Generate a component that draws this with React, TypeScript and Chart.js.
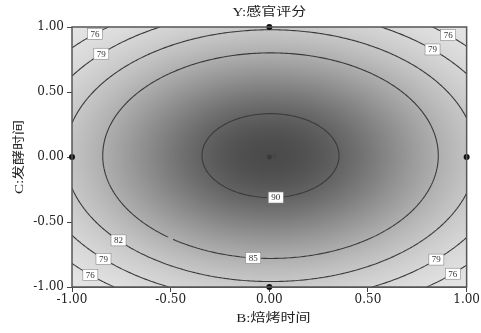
import { useEffect, useRef } from "react";
import { Chart, registerables } from "chart.js";

Chart.register(...registerables);

// Titles
const TITLE = "Y:感官评分";
const X_TITLE = "B:焙烤时间";
const Y_TITLE = "C:发酵时间";

// Coded factor ticks
const TICKS = [-1, -0.5, 0, 0.5, 1];

// Fitted quadratic response model: terms and coefficients (coded units)
const COEF_TERMS = ["1", "B", "C", "BC", "B2", "C2"];
const COEF_VALUES = [91, 0.1, 0.2, 0, -8.3, -9.6];

// Contour levels
const LEVELS = [76, 79, 82, 85, 90];

// Contour labels: which level, and the direction (deg) from the centre where it sits
const LABEL_LEVELS = [90, 85, 82, 79, 79, 79, 79, 76, 76, 76, 76];
const LABEL_ANGLES = [-84, -96, -140, -137, 137, 45, -43, -135, 133, 46, -44];

// Design points (coded) and replicate counts
const DESIGN_B = [0, 0, -1, 1, 0];
const DESIGN_C = [1, -1, 0, 0, 0];
const DESIGN_RUNS = [1, 1, 1, 1, 5];

const SERIF = "'DejaVu Serif', 'Liberation Serif', serif";
const CJK = "'Liberation Serif', 'Noto Sans CJK SC', serif";

function model(b: number, c: number): number {
  const k = COEF_VALUES;
  return k[0] + k[1] * b + k[2] * c + k[3] * b * c + k[4] * b * b + k[5] * c * c;
}

const V_MAX = model(0, 0);

function grayFor(v: number): number {
  const d = Math.max(0, V_MAX - v);
  return 240 - 165 * Math.exp(-d / 6.5);
}

type Seg = [number, number, number, number];

function contourSegments(level: number, n: number): Seg[] {
  const at = (i: number) => -1 + (2 * i) / n;
  const g: number[][] = [];
  for (let j = 0; j <= n; j++) {
    const row: number[] = [];
    for (let i = 0; i <= n; i++) row.push(model(at(i), at(j)));
    g.push(row);
  }
  const segs: Seg[] = [];
  const lerp = (a: number, b: number) => (level - a) / (b - a);
  for (let j = 0; j < n; j++) {
    for (let i = 0; i < n; i++) {
      const v00 = g[j][i], v10 = g[j][i + 1], v11 = g[j + 1][i + 1], v01 = g[j + 1][i];
      const x0 = at(i), x1 = at(i + 1), y0 = at(j), y1 = at(j + 1);
      const pts: number[][] = [];
      if ((v00 - level) * (v10 - level) < 0) pts.push([x0 + (x1 - x0) * lerp(v00, v10), y0]);
      if ((v10 - level) * (v11 - level) < 0) pts.push([x1, y0 + (y1 - y0) * lerp(v10, v11)]);
      if ((v01 - level) * (v11 - level) < 0) pts.push([x0 + (x1 - x0) * lerp(v01, v11), y1]);
      if ((v00 - level) * (v01 - level) < 0) pts.push([x0, y0 + (y1 - y0) * lerp(v00, v01)]);
      if (pts.length >= 2) segs.push([pts[0][0], pts[0][1], pts[1][0], pts[1][1]]);
      if (pts.length === 4) segs.push([pts[2][0], pts[2][1], pts[3][0], pts[3][1]]);
    }
  }
  return segs;
}

function labelPoint(level: number, angleDeg: number): [number, number] | null {
  const a = (angleDeg * Math.PI) / 180;
  const cx = Math.cos(a), cy = Math.sin(a);
  let prev = model(0, 0);
  for (let r = 0.005; r < 1.5; r += 0.005) {
    const x = r * cx, y = r * cy;
    if (Math.abs(x) > 1 || Math.abs(y) > 1) break;
    const v = model(x, y);
    if ((prev - level) * (v - level) <= 0) {
      const t = (prev - level) / (prev - v);
      const rr = r - 0.005 + 0.005 * t;
      return [rr * cx, rr * cy];
    }
    prev = v;
  }
  return null;
}

// Text stretched along its own direction (wide glyphs)
function wideText(ctx: CanvasRenderingContext2D, text: string, x: number, y: number, rot: number, stretch: number) {
  ctx.save();
  ctx.translate(x, y);
  ctx.rotate(rot);
  ctx.scale(stretch, 1);
  ctx.fillText(text, 0, 0);
  ctx.restore();
}

const surfacePlugin = {
  id: "surface",
  beforeDatasetsDraw(chart: any) {
    const { ctx, chartArea, scales } = chart;
    const xs = scales.x, ys = scales.y;
    const w = Math.round(chartArea.right - chartArea.left);
    const h = Math.round(chartArea.bottom - chartArea.top);
    // shaded response surface
    const off = document.createElement("canvas");
    off.width = w;
    off.height = h;
    const octx = off.getContext("2d")!;
    const img = octx.createImageData(w, h);
    for (let py = 0; py < h; py++) {
      const c = ys.getValueForPixel(chartArea.top + py + 0.5);
      for (let px = 0; px < w; px++) {
        const b = xs.getValueForPixel(chartArea.left + px + 0.5);
        const gv = grayFor(model(b, c));
        const idx = (py * w + px) * 4;
        img.data[idx] = gv;
        img.data[idx + 1] = gv;
        img.data[idx + 2] = gv;
        img.data[idx + 3] = 255;
      }
    }
    octx.putImageData(img, 0, 0);
    ctx.save();
    ctx.drawImage(off, chartArea.left, chartArea.top);

    // contour lines
    ctx.beginPath();
    ctx.rect(chartArea.left, chartArea.top, w, h);
    ctx.clip();
    ctx.strokeStyle = "#3a3a3a";
    ctx.lineWidth = 1.1;
    for (const level of LEVELS) {
      ctx.beginPath();
      for (const s of contourSegments(level, 160)) {
        ctx.moveTo(xs.getPixelForValue(s[0]), ys.getPixelForValue(s[1]));
        ctx.lineTo(xs.getPixelForValue(s[2]), ys.getPixelForValue(s[3]));
      }
      ctx.stroke();
    }

    // contour labels
    ctx.font = "9px 'Liberation Serif', serif";
    ctx.textAlign = "center";
    ctx.textBaseline = "middle";
    LABEL_LEVELS.forEach((level, i) => {
      const p = labelPoint(level, LABEL_ANGLES[i]);
      if (!p) return;
      const px = xs.getPixelForValue(p[0]);
      const py = ys.getPixelForValue(p[1]);
      const text = String(level);
      const tw = ctx.measureText(text).width + 6;
      ctx.fillStyle = "#ffffff";
      ctx.fillRect(px - tw / 2, py - 5.5, tw, 11);
      ctx.strokeStyle = "#888";
      ctx.lineWidth = 0.6;
      ctx.strokeRect(px - tw / 2, py - 5.5, tw, 11);
      ctx.fillStyle = "#333";
      ctx.fillText(text, px, py + 0.5);
    });
    ctx.restore();
  },
  afterDatasetsDraw(chart: any) {
    const { ctx, chartArea, scales } = chart;
    ctx.save();
    // replicate counts beside design points
    ctx.font = "8px 'Liberation Sans', sans-serif";
    ctx.fillStyle = "#444";
    ctx.textAlign = "left";
    ctx.textBaseline = "middle";
    DESIGN_RUNS.forEach((n, i) => {
      if (n > 1) {
        ctx.fillText(String(n), scales.x.getPixelForValue(DESIGN_B[i]) + 3, scales.y.getPixelForValue(DESIGN_C[i]));
      }
    });
    // frame
    ctx.strokeStyle = "#555";
    ctx.lineWidth = 1.5;
    ctx.strokeRect(chartArea.left, chartArea.top, chartArea.right - chartArea.left, chartArea.bottom - chartArea.top);
    // titles
    const midX = (chartArea.left + chartArea.right) / 2;
    const midY = (chartArea.top + chartArea.bottom) / 2;
    ctx.font = `12px ${CJK}`;
    ctx.fillStyle = "#222";
    ctx.textAlign = "center";
    ctx.textBaseline = "middle";
    wideText(ctx, TITLE, midX, 13, 0, 1.25);
    wideText(ctx, X_TITLE, midX + 4, 319, 0, 1.25);
    wideText(ctx, Y_TITLE, 20, midY, -Math.PI / 2, 1.25);
    ctx.restore();
  },
};

export default function App() {
  const ref = useRef<HTMLCanvasElement>(null);
  useEffect(() => {
    if (!ref.current) return;
    const tickStyle = {
      font: { family: SERIF, size: 12 },
      color: "#222",
      callback: (v: any) => Number(v).toFixed(2),
    };
    const gridStyle = {
      display: true,
      drawOnChartArea: false,
      drawTicks: true,
      tickLength: 5,
      color: "#444",
    };
    const chart = new Chart(ref.current, {
      type: "scatter",
      data: {
        datasets: [
          {
            label: "design",
            data: DESIGN_B.map((b, i) => ({ x: b, y: DESIGN_C[i] })),
            pointRadius: DESIGN_RUNS.map((n) => (n > 1 ? 2.5 : 3)),
            backgroundColor: DESIGN_RUNS.map((n) => (n > 1 ? "#3a3a3a" : "#111")),
            borderColor: DESIGN_RUNS.map((n) => (n > 1 ? "#3a3a3a" : "#111")),
            borderWidth: 0,
            clip: false,
          } as any,
        ],
      },
      options: {
        responsive: false,
        animation: false,
        events: [],
        layout: { padding: { top: 27, right: 14, left: 0, bottom: 0 } },
        plugins: { legend: { display: false }, tooltip: { enabled: false }, title: { display: false } },
        scales: {
          x: {
            type: "linear",
            min: -1,
            max: 1,
            afterBuildTicks: (s: any) => {
              s.ticks = TICKS.map((v) => ({ value: v }));
            },
            afterFit: (s: any) => {
              s.height = 46;
            },
            ticks: { ...tickStyle, padding: 1, maxRotation: 0 },
            grid: gridStyle,
            border: { display: true, color: "#555" },
          },
          y: {
            type: "linear",
            min: -1,
            max: 1,
            afterBuildTicks: (s: any) => {
              s.ticks = TICKS.map((v) => ({ value: v }));
            },
            afterFit: (s: any) => {
              s.width = 72;
            },
            ticks: { ...tickStyle, padding: 3 },
            grid: gridStyle,
            border: { display: true, color: "#555" },
          },
        },
      },
      plugins: [surfacePlugin],
    } as any);
    return () => chart.destroy();
  }, []);
  return (
    <div style={{ position: "fixed", left: 0, top: 0, width: 481, height: 333, background: "#fff" }}>
      <canvas ref={ref} width={481} height={333} style={{ width: 481, height: 333, display: "block" }} />
    </div>
  );
}
